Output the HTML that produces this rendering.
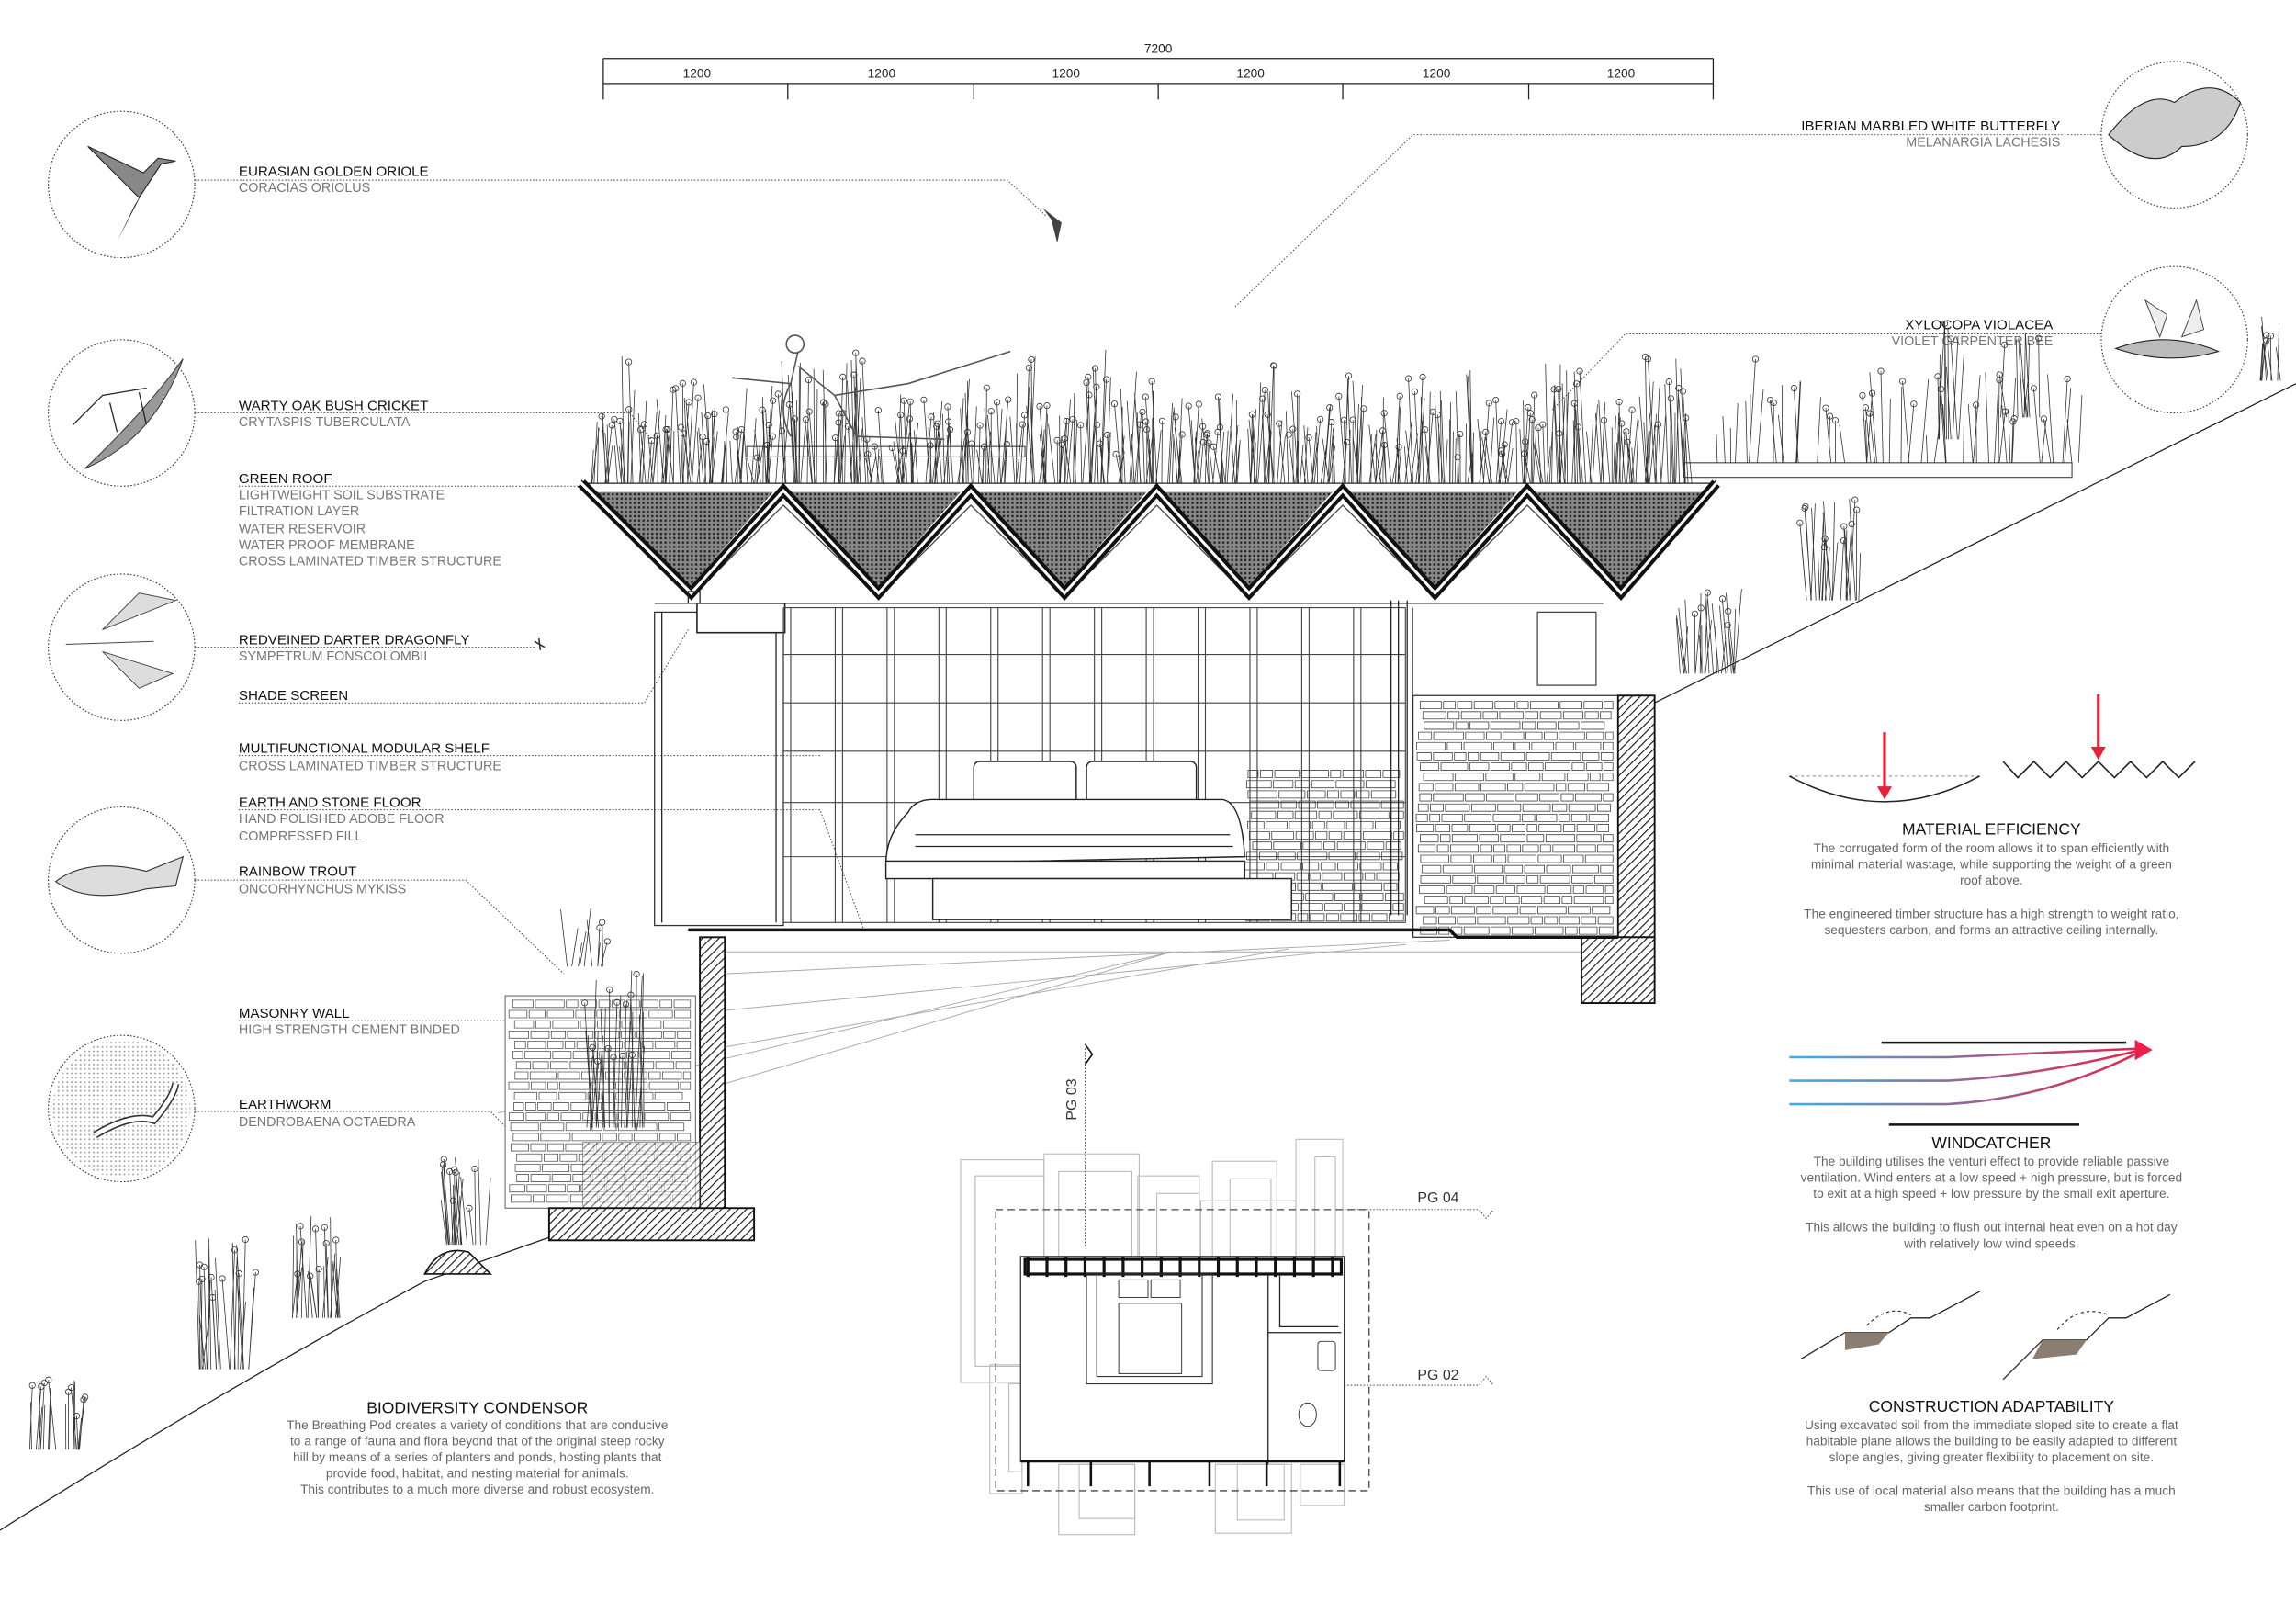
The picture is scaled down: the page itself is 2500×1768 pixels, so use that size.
<!DOCTYPE html>
<html><head><meta charset="utf-8">
<style>
html,body{margin:0;padding:0;background:#fff;}
svg{display:block;}
text{font-family:"Liberation Sans",sans-serif;}
.h{font-size:9.5px;fill:#111;}
.s{font-size:9px;fill:#777;}
.b{font-size:8.6px;fill:#666;}
.hd{font-size:11px;fill:#111;}
.ld{stroke:#444;stroke-width:.6;stroke-dasharray:1 1.2;fill:none;}
.c{fill:none;stroke:#333;stroke-width:.7;stroke-dasharray:1 1.3;}
.t{fill:none;stroke:#222;stroke-width:.8;}
.g{fill:none;stroke:#aaa;stroke-width:.6;}
</style></head><body>
<svg id="s" width="2500" height="1768" viewBox="0 0 1568 1109" preserveAspectRatio="none" xmlns="http://www.w3.org/2000/svg">
<defs>
<pattern id="hat" width="4" height="4" patternUnits="userSpaceOnUse" patternTransform="rotate(45)"><rect width="4" height="4" fill="#fff"/><line x1="0" y1="0" x2="0" y2="4" stroke="#111" stroke-width="1.4"/></pattern>
<pattern id="grv" width="3" height="3" patternUnits="userSpaceOnUse"><rect width="3" height="3" fill="#888"/><circle cx="1.5" cy="1.5" r=".8" fill="#222"/></pattern>
<pattern id="dots" width="3" height="3" patternUnits="userSpaceOnUse"><rect width="3" height="3" fill="#fff"/><circle cx="1" cy="1" r=".6" fill="#555"/></pattern>
<linearGradient id="wg" x1="0" x2="1"><stop offset="0" stop-color="#3ab0e8"/><stop offset="1" stop-color="#e8204a"/></linearGradient>
</defs>

<!-- dimension -->
<text x="791" y="36" class="b" text-anchor="middle" style="fill:#222">7200</text>
<path d="M412 40H1170M412 40V68M1170 40V68M412 57H1170" class="t" stroke-width=".6"/>
<g class="t" stroke-width=".6"><path d="M538 57V68M665 57V68M791 57V68M917 57V68M1044 57V68"/></g>
<g class="b" text-anchor="middle" style="fill:#222"><text x="476" y="53">1200</text><text x="602" y="53">1200</text><text x="728" y="53">1200</text><text x="854" y="53">1200</text><text x="981" y="53">1200</text><text x="1107" y="53">1200</text></g>

<!-- circles -->
<g class="c"><circle cx="83" cy="126" r="50"/><circle cx="83" cy="282" r="50"/><circle cx="83" cy="442" r="50"/><circle cx="83" cy="601" r="50"/><circle cx="83" cy="757" r="50"/><circle cx="1485" cy="92" r="50"/><circle cx="1485" cy="232" r="50"/></g>
<circle cx="83" cy="757" r="47" fill="url(#dots)" opacity=".6"/>
<path d="M60 100 L95 135 L110 112 L120 110 L108 108 L98 118 Z" fill="#888" stroke="#222" stroke-width=".7"/>
<path d="M98 130 L80 165 L92 140Z" fill="#222"/>
<path d="M58 320 Q100 280 125 245 Q105 300 58 320Z" fill="#999" stroke="#333" stroke-width=".6"/>
<path d="M50 290 L70 270 L100 265 M75 275 L80 295 M95 268 L100 290" class="t"/>
<path d="M45 440 L105 438 M70 430 L95 405 L120 410 Z M70 445 L95 470 L118 460Z" fill="#ddd" stroke="#444" stroke-width=".6"/>
<path d="M38 602 Q60 585 100 595 L125 585 L120 605 L100 607 Q60 618 38 602Z" fill="#ddd" stroke="#333" stroke-width=".7"/>
<path d="M65 775 Q90 760 105 765 Q118 750 120 740" fill="none" stroke="#333" stroke-width="5"/>
<path d="M65 775 Q90 760 105 765 Q118 750 120 740" fill="none" stroke="#fff" stroke-width="3"/>
<path d="M1440 92 Q1465 60 1485 70 Q1510 50 1530 70 Q1520 100 1490 100 Q1470 120 1440 92Z" fill="#ccc" stroke="#222" stroke-width=".7"/>
<path d="M1445 238 Q1480 225 1515 240 Q1480 250 1445 238Z" fill="#bbb" stroke="#222" stroke-width=".7"/>
<path d="M1475 230 L1465 205 L1480 215 Z M1490 230 L1500 205 L1505 225Z" fill="#eee" stroke="#444" stroke-width=".6"/>

<!-- labels left -->
<g>
<text x="163" y="120" class="h">EURASIAN GOLDEN ORIOLE</text><text x="163" y="131" class="s">CORACIAS ORIOLUS</text>
<path d="M133 123H688L715 148" class="ld"/>
<text x="163" y="280" class="h">WARTY OAK BUSH CRICKET</text><text x="163" y="291" class="s">CRYTASPIS TUBERCULATA</text>
<path d="M133 282H430L445 300" class="ld"/>
<text x="163" y="330" class="h">GREEN ROOF</text>
<text x="163" y="341" class="s">LIGHTWEIGHT SOIL SUBSTRATE</text><text x="163" y="352" class="s">FILTRATION LAYER</text><text x="163" y="364" class="s">WATER RESERVOIR</text><text x="163" y="375" class="s">WATER PROOF MEMBRANE</text><text x="163" y="386" class="s">CROSS LAMINATED TIMBER STRUCTURE</text>
<path d="M163 332H400" class="ld"/>
<text x="163" y="440" class="h">REDVEINED DARTER DRAGONFLY</text><text x="163" y="451" class="s">SYMPETRUM FONSCOLOMBII</text>
<path d="M133 442H365" class="ld"/>
<text x="163" y="478" class="h">SHADE SCREEN</text>
<path d="M163 480H440L470 430" class="ld"/>
<text x="163" y="514" class="h">MULTIFUNCTIONAL MODULAR SHELF</text><text x="163" y="526" class="s">CROSS LAMINATED TIMBER STRUCTURE</text>
<path d="M163 516H560" class="ld"/>
<text x="163" y="551" class="h">EARTH AND STONE FLOOR</text><text x="163" y="562" class="s">HAND POLISHED ADOBE FLOOR</text><text x="163" y="574" class="s">COMPRESSED FILL</text>
<path d="M163 553H560L590 635" class="ld"/>
<text x="163" y="598" class="h">RAINBOW TROUT</text><text x="163" y="610" class="s">ONCORHYNCHUS MYKISS</text>
<path d="M133 601H318L385 665" class="ld"/>
<text x="163" y="695" class="h">MASONRY WALL</text><text x="163" y="706" class="s">HIGH STRENGTH CEMENT BINDED</text>
<path d="M163 697H375" class="ld"/>
<text x="163" y="757" class="h">EARTHWORM</text><text x="163" y="769" class="s">DENDROBAENA OCTAEDRA</text>
<path d="M133 759H335L380 805" class="ld"/>
</g>
<text x="1407" y="89" class="h" text-anchor="end">IBERIAN MARBLED WHITE BUTTERFLY</text><text x="1407" y="100" class="s" text-anchor="end">MELANARGIA LACHESIS</text>
<path d="M1435 92H965L843 210" class="ld"/>
<text x="1402" y="225" class="h" text-anchor="end">XYLOCOPA VIOLACEA</text><text x="1402" y="236" class="s" text-anchor="end">VIOLET CARPENTER BEE</text>
<path d="M1435 228H1110L1060 280" class="ld"/>

<!-- terrain -->
<path d="M0 1045 Q150 950 290 875 L375 845" class="t"/>
<path d="M1130 480 L1568 262" class="t"/>
<g class="g"><path d="M495 650H1080M495 665L990 642M495 690L960 645M495 715L880 648M340 760L800 650M495 740L800 650"/></g>

<path d="M400 330H1170" class="t"/>
<path d="M1150 316H1415V326H1150Z" fill="#fff" stroke="#444" stroke-width=".7"/>
<path d="M510 305H700V312H510Z" fill="#fff" stroke="#444" stroke-width=".7"/>
<path d="M405 336 L472 400 L528 336Z M540 336 L600 400 L656 336Z M668 336 L727 400 L783 336Z M795 336 L853 400 L910 336Z M922 336 L980 400 L1036 336Z M1048 336 L1107 400 L1163 336Z" fill="url(#grv)"/>
<path d="M472 408 L535 345 L600 408 L663 345 L727 408 L790 345 L853 408 L917 345 L980 408 L1043 345 L1107 408" fill="#fff" stroke="#444" stroke-width=".8"/>
<path d="M447 412H1095" class="t"/>
<path d="M397 330 L472 405 L535 335 L600 405 L663 335 L727 405 L790 335 L853 405 L917 335 L980 405 L1043 335 L1107 405 L1172 330" fill="none" stroke="#111" stroke-width="7" stroke-linejoin="miter"/>
<path d="M397 330 L472 405 L535 335 L600 405 L663 335 L727 405 L790 335 L853 405 L917 335 L980 405 L1043 335 L1107 405 L1172 330" fill="none" stroke="#fff" stroke-width="2"/>
<path d="M397 330 L472 405 L535 335 L600 405 L663 335 L727 405 L790 335 L853 405 L917 335 L980 405 L1043 335 L1107 405 L1172 330" fill="none" stroke="#111" stroke-width=".8" transform="translate(0,-2)"/>

<!-- room -->
<rect x="447" y="418" width="88" height="214" fill="none" stroke="#333" stroke-width=".8"/>
<path d="M452 418V630M530 418V630M470 404H478V412H470Z" class="t"/>
<rect x="476" y="412" width="60" height="20" fill="#fff" stroke="#222" stroke-width="1"/>
<g id="grid" stroke="#444" stroke-width=".7" fill="none"></g>
<rect x="965" y="475" width="140" height="165" fill="#fff" stroke="#333" stroke-width=".8"/>
<g id="stones" stroke="#444" stroke-width=".5" fill="none"></g>
<rect x="1105" y="475" width="25" height="165" fill="url(#hat)" stroke="#111" stroke-width="1.2"/>
<rect x="1080" y="640" width="50" height="45" fill="url(#hat)" stroke="#111" stroke-width="1.2"/>
<rect x="1050" y="418" width="40" height="50" fill="none" stroke="#444" stroke-width=".8"/>
<path d="M950 410V625M955 410V625M961 410V625" class="t"/>
<rect x="665" y="520" width="70" height="34" rx="4" fill="#fff" stroke="#222" stroke-width=".9"/>
<rect x="742" y="520" width="75" height="34" rx="4" fill="#fff" stroke="#222" stroke-width=".9"/>
<path d="M620 555 Q625 545 640 546 H835 Q848 548 850 585 L605 590 Q605 570 620 555Z" fill="#fff" stroke="#222" stroke-width=".9"/>
<path d="M625 570H840M625 578H842" class="t" stroke-width=".5"/>
<rect x="605" y="588" width="245" height="12" fill="#fff" stroke="#222" stroke-width=".9"/>
<rect x="637" y="600" width="245" height="28" fill="#fff" stroke="#222" stroke-width=".9"/>
<path d="M470 635H990L995 640H1105" fill="none" stroke="#111" stroke-width="2.2"/>
<rect x="345" y="680" width="130" height="145" fill="#fff" stroke="#555" stroke-width=".6"/>
<g id="stones2" stroke="#555" stroke-width=".5" fill="none"></g>
<rect x="478" y="640" width="17" height="190" fill="url(#hat)" stroke="#111" stroke-width="1.2"/>
<rect x="398" y="780" width="80" height="45" fill="url(#hat)" stroke="#555" stroke-width=".6" opacity=".6"/>
<rect x="375" y="825" width="140" height="22" fill="url(#hat)" stroke="#111" stroke-width="1.2"/>
<path d="M290 870 Q300 850 320 855 L335 870Z" fill="url(#hat)" stroke="#111"/>
<g id="plants" stroke="#333" stroke-width=".5" fill="none"></g>
<path d="M500 258 L540 262 L545 240 M545 250 L570 270 L620 262 L690 240 M570 270 L585 298 L645 300 M540 262 Q530 280 540 298" fill="none" stroke="#555" stroke-width="1"/>
<circle cx="543" cy="235" r="6" fill="#fff" stroke="#555"/>
<path d="M712 142 L725 152 L722 166 L718 150Z" fill="#444"/>
<path d="M365 438 L372 442 M368 436 L369 444" stroke="#333"/>

<!-- plan -->
<g fill="none" stroke="#bbb" stroke-width=".7">
<rect x="656" y="792" width="57" height="152"/><rect x="666" y="803" width="47" height="130"/>
<rect x="713" y="788" width="65" height="70"/><rect x="723" y="800" width="50" height="58"/>
<rect x="777" y="803" width="42" height="55"/><rect x="790" y="815" width="29" height="43"/>
<rect x="828" y="793" width="44" height="65"/><rect x="840" y="805" width="28" height="53"/>
<rect x="820" y="820" width="65" height="38"/><rect x="885" y="778" width="32" height="80"/><rect x="898" y="790" width="14" height="68"/>
<rect x="676" y="932" width="22" height="88"/><rect x="689" y="945" width="9" height="60"/>
<rect x="723" y="1000" width="52" height="48"/><rect x="737" y="1000" width="38" height="37"/>
<rect x="830" y="1000" width="52" height="47"/><rect x="845" y="1000" width="32" height="38"/>
<rect x="888" y="1000" width="30" height="28"/>
</g>
<rect x="680" y="826" width="255" height="192" fill="none" stroke="#444" stroke-width=".8" stroke-dasharray="5 3"/>
<rect x="697" y="858" width="221" height="140" fill="#fff" stroke="#333" stroke-width=".8"/>
<rect x="700" y="860" width="216" height="10" fill="none" stroke="#111" stroke-width="2"/>
<g id="plangrid" stroke="#111" stroke-width="2"></g>
<rect x="742" y="870" width="86" height="75" fill="none" stroke="#333" stroke-width=".7"/>
<rect x="749" y="870" width="72" height="70" fill="none" stroke="#333" stroke-width=".7"/>
<rect x="764" y="874" width="20" height="12" fill="none" stroke="#333" stroke-width=".6"/><rect x="786" y="874" width="20" height="12" fill="none" stroke="#333" stroke-width=".6"/>
<rect x="764" y="890" width="43" height="48" fill="none" stroke="#333" stroke-width=".6"/>
<path d="M866 870V1000M866 910H916M874 870V906H914" class="t" stroke-width=".6"/>
<rect x="900" y="916" width="12" height="20" rx="2" fill="none" stroke="#333" stroke-width=".6"/>
<ellipse cx="893" cy="966" rx="6" ry="8" fill="none" stroke="#333" stroke-width=".6"/>
<path d="M697 998H918" stroke="#111" stroke-width="1.5"/>
<g stroke="#111" stroke-width="1.6"><path d="M702 998V1015M745 998V1015M785 998V1015M826 998V1015M865 998V1015M915 998V1015"/></g>
<path d="M741 716V852" class="ld"/><path d="M741 713 L746 720 L741 727" fill="none" stroke="#111"/>
<text x="735" y="765" class="b" style="font-size:10px;fill:#333" transform="rotate(-90 735 765)">PG 03</text>
<text x="968" y="821" class="b" style="font-size:10px;fill:#333">PG 04</text>
<path d="M918 826H1010L1015 832L1020 826" class="ld"/>
<text x="968" y="942" class="b" style="font-size:10px;fill:#333">PG 02</text>
<path d="M918 946H1010L1015 940L1020 946" class="ld"/>

<g text-anchor="middle">
<text x="326" y="965" class="hd">BIODIVERSITY CONDENSOR</text>
<text x="326" y="976" class="b">The Breathing Pod creates a variety of conditions that are conducive</text>
<text x="326" y="987" class="b">to a range of fauna and flora beyond that of the original steep rocky</text>
<text x="326" y="998" class="b">hill by means of a series of planters and ponds, hosting plants that</text>
<text x="326" y="1009" class="b">provide food, habitat, and nesting material for animals.</text>
<text x="326" y="1020" class="b">This contributes to a much more diverse and robust ecosystem.</text>
</g>

<path d="M1222 530H1352" fill="none" stroke="#777" stroke-width=".6" stroke-dasharray="2 2"/>
<path d="M1222 530 Q1287 565 1352 530" fill="none" stroke="#222" stroke-width=".9"/>
<path d="M1287 500V540" stroke="#e8203a" stroke-width="2"/><path d="M1282 537L1287 546L1292 537Z" fill="#e8203a"/>
<path d="M1368 520L1378 531L1389 520L1400 531L1411 520L1422 531L1433 520L1444 531L1455 520L1466 531L1477 520L1488 531L1499 520" fill="none" stroke="#222" stroke-width="1"/>
<path d="M1433 474V512" stroke="#e8203a" stroke-width="2"/><path d="M1428 510L1433 519L1438 510Z" fill="#e8203a"/>
<g text-anchor="middle">
<text x="1360" y="570" class="hd">MATERIAL EFFICIENCY</text>
<text x="1360" y="582" class="b">The corrugated form of the room allows it to span efficiently with</text>
<text x="1360" y="593" class="b">minimal material wastage, while supporting the weight of a green</text>
<text x="1360" y="604" class="b">roof above.</text>
<text x="1360" y="627" class="b">The engineered timber structure has a high strength to weight ratio,</text>
<text x="1360" y="638" class="b">sequesters carbon, and forms an attractive ceiling internally.</text>
</g>
<path d="M1285 712H1452M1290 768H1420" stroke="#111" stroke-width="1.6"/>
<g fill="none" stroke="url(#wg)" stroke-width="1.6">
<path d="M1222 722H1330Q1380 720 1462 716"/><path d="M1222 738H1330Q1390 735 1462 717"/><path d="M1222 754H1330Q1400 750 1462 718"/>
</g>
<path d="M1458 710L1470 717L1458 724Z" fill="#e8204a"/>
<g text-anchor="middle">
<text x="1360" y="784" class="hd">WINDCATCHER</text>
<text x="1360" y="796" class="b">The building utilises the venturi effect to provide reliable passive</text>
<text x="1360" y="807" class="b">ventilation. Wind enters at a low speed + high pressure, but is forced</text>
<text x="1360" y="818" class="b">to exit at a high speed + low pressure by the small exit aperture.</text>
<text x="1360" y="841" class="b">This allows the building to flush out internal heat even on a hot day</text>
<text x="1360" y="852" class="b">with relatively low wind speeds.</text>
</g>
<path d="M1230 928L1260 910H1290L1305 900H1318L1352 882" fill="none" stroke="#222" stroke-width=".8"/>
<path d="M1260 910H1290L1283 918L1260 922Z" fill="#8a7d72"/>
<path d="M1368 942L1395 915H1425L1440 900H1452L1482 884" fill="none" stroke="#222" stroke-width=".8"/>
<path d="M1395 915H1425L1418 925L1388 928Z" fill="#8a7d72"/>
<path d="M1275 905Q1290 890 1305 898M1405 908Q1420 890 1440 898" fill="none" stroke="#222" stroke-width=".7" stroke-dasharray="2 2"/>
<g text-anchor="middle">
<text x="1360" y="964" class="hd">CONSTRUCTION ADAPTABILITY</text>
<text x="1360" y="976" class="b">Using excavated soil from the immediate sloped site to create a flat</text>
<text x="1360" y="987" class="b">habitable plane allows the building to be easily adapted to different</text>
<text x="1360" y="998" class="b">slope angles, giving greater flexibility to placement on site.</text>
<text x="1360" y="1021" class="b">This use of local material also means that the building has a much</text>
<text x="1360" y="1032" class="b">smaller carbon footprint.</text>
</g>
</svg>
<script>
(function(){
var NS="http://www.w3.org/2000/svg";
function P(g,d){var p=document.createElementNS(NS,"path");p.setAttribute("d",d);document.getElementById(g).appendChild(p);}
var seed=7;function r(){seed=(seed*9301+49297)%233280;return seed/233280;}
var d="";
for(var x=535;x<=960;x+=35.4){d+="M"+x.toFixed(1)+" 415V630M"+(x+5).toFixed(1)+" 415V630";}
[415,447,480,513,548,585,630].forEach(function(y){d+="M535 "+y+"H960";});
P("grid",d);
function stones(g,x0,y0,x1,y1){var s="";for(var y=y0;y<y1-4;y+=7){var x=x0+r()*6;while(x<x1-6){var w=8+r()*14;if(x+w>x1)w=x1-x;s+="M"+x.toFixed(1)+" "+(y+1)+"h"+(w-1.5).toFixed(1)+"v5h-"+(w-1.5).toFixed(1)+"z";x+=w;}}P(g,s);}
stones("stones",967,478,1103,638);stones("stones",850,525,960,630);
stones("stones2",347,682,473,823);
var pl="";
function tuft(cx,cy,h,n,sp){for(var i=0;i<n;i++){var x=cx+(r()-.5)*sp;var hh=h*(.4+r()*.6);var dx=(r()-.5)*10;pl+="M"+x.toFixed(1)+" "+cy+"Q"+(x+dx/2).toFixed(1)+" "+(cy-hh/2).toFixed(1)+" "+(x+dx).toFixed(1)+" "+(cy-hh).toFixed(1);if(r()<.35)pl+="m-2 0a2 2 0 1 0 4 0a2 2 0 1 0 -4 0";}}
for(var x=410;x<1160;x+=10){tuft(x,330,40+r()*55,7,14);}
for(var x=1180;x<1420;x+=18){tuft(x,316,40+r()*40,4,16);}
tuft(1250,410,70,25,40);tuft(1165,460,60,25,40);tuft(1330,300,80,12,20);tuft(1380,285,60,12,30);tuft(1550,260,50,10,20);
tuft(420,770,110,30,40);tuft(400,660,40,10,30);
tuft(150,935,90,25,40);tuft(215,900,70,25,40);tuft(320,850,60,20,30);tuft(40,990,50,20,40);
P("plants",pl);
var pg="";for(var x=702;x<=915;x+=13){pg+="M"+x+" 858V872";}P("plangrid",pg);
})();
</script>
</body></html>
